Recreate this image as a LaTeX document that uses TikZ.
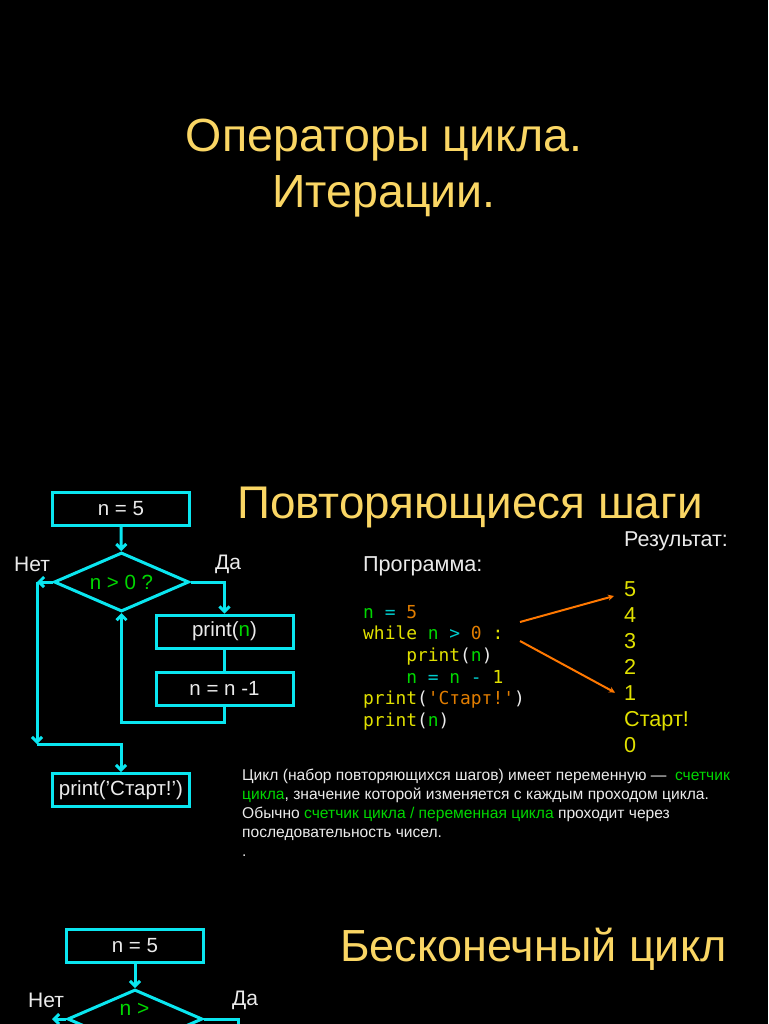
\documentclass[tikz,border=0pt]{standalone}
\usepackage{fontspec}
\setmainfont{Liberation Sans}
\setmonofont{DejaVu Sans Mono}
\usetikzlibrary{positioning,arrows.meta,shapes.geometric}

\definecolor{titlegold}{RGB}{250,214,100}
\definecolor{flowcyan}{RGB}{10,230,240}
\definecolor{softwhite}{RGB}{235,235,235}
\definecolor{flowgreen}{RGB}{0,215,0}
\definecolor{codeyellow}{RGB}{225,225,0}
\definecolor{codecyan}{RGB}{0,205,205}
\definecolor{codeorange}{RGB}{225,125,0}
\definecolor{arroworange}{RGB}{255,120,0}

\newcommand{\gn}[1]{\textcolor{flowgreen}{#1}}
\newcommand{\yl}[1]{\textcolor{codeyellow}{#1}}
\newcommand{\cy}[1]{\textcolor{codecyan}{#1}}
\newcommand{\og}[1]{\textcolor{codeorange}{#1}}

\begin{document}
\begin{tikzpicture}[
  x=1pt, y=-1pt,
  every node/.style={text=softwhite, inner sep=0pt},
  box/.style={draw=flowcyan, line width=3pt, minimum width=137pt, minimum height=33pt,
    font=\fontsize{20.5}{22}\selectfont},
  cond/.style={diamond, draw=flowcyan, line width=3pt, aspect=2.3, minimum width=135pt,
    minimum height=59pt, font=\fontsize{20.5}{22}\selectfont},
  side/.style={font=\fontsize{21}{24}\selectfont},
  heading/.style={text=titlegold, font=\fontsize{46.5}{54}\selectfont},
  res/.style={text=codeyellow, font=\fontsize{21.6}{24}\selectfont, anchor=base west},
  flow/.style={draw=flowcyan, line width=3pt, -{Straight Barb[length=5pt,width=10pt]}},
  plain/.style={draw=flowcyan, line width=3pt},
  orarrow/.style={draw=arroworange, line width=2pt, -{Stealth[length=6pt,width=6pt]}}
]
\fill[black] (0,0) rectangle (768,1024);
\useasboundingbox (0,0) rectangle (768,1024);

% title slide
\node[heading, anchor=base] (title1) at (384,152) {Операторы цикла.};
\node[heading, anchor=base] (title2) at (384,208) {Итерации.};

% flowchart
\node[box] (init) at (121,509) {n = 5};
\node[cond] (test) at (121.5,582) {\gn{n > 0 ?}};
\node[box] (show) at (224.5,631.5) {print(\gn{n})};
\node[box] (dec) at (224.5,688.5) {n = n -1};
\node[box] (done) at (121,790) {print('Старт!')};
\node[side] (no) at (32,564) {Нет};
\node[side] (yes) at (228,564) {Да};

\coordinate (nolft) at (37,582);
\coordinate (nodown) at (37,744);

\draw[flow] (init) -- (test);
\draw[flow] (test.east) -| (show.north);
\draw[plain] (show) -- (dec);
\draw[flow] (dec.south) -- ++(0,16) -| (test.south);
\draw[flow] (test.west) -- (nolft);
\draw[flow] (nolft) -- (nodown);
\draw[flow] (nodown) -| (done.north);

% program and result
\node[heading, anchor=base west, font=\fontsize{45.8}{54}\selectfont] (steps) at (237,518) {Повторяющиеся шаги};
\node[side, anchor=base west, font=\fontsize{21.6}{24}\selectfont] (proglbl) at (363,571) {Программа:};
\node[side, anchor=base west, font=\fontsize{21.5}{24}\selectfont] (reslbl) at (624,546) {Результат:};

\node[anchor=north west, align=left, font=\fontsize{17.9}{21.6}\ttfamily] (prog) at (363,605) {%
  \gn{n} \cy{=} \og{5}\\
  \yl{while} \gn{n} \cy{>} \og{0} \yl{:}\\
  \hphantom{xxxx}\yl{print}(\gn{n})\\
  \hphantom{xxxx}\gn{n} \cy{=} \gn{n} \cy{-} \yl{1}\\
  \yl{print}(\og{'Старт!'})\\
  \yl{print}(\gn{n})};

\node[res] (r5) at (624,596) {5};
\node[res] (r4) at (624,622) {4};
\node[res] (r3) at (624,648) {3};
\node[res] (r2) at (624,674) {2};
\node[res] (r1) at (624,700) {1};
\node[res] (rstart) at (624,726) {Старт!};
\node[res] (r0) at (624,752) {0};

\coordinate (w1) at (520,622);
\coordinate (w2) at (520,641);
\draw[orarrow] (w1) -- ([xshift=-10pt]r5.base west);
\draw[orarrow] (w2) -- ([xshift=-9pt]r1.west);

\node[anchor=north west, align=left, font=\fontsize{15.6}{19}\selectfont] (note) at (242,769) {%
  Цикл (набор повторяющихся шагов) имеет переменную —\ \ \gn{счетчик}\\
  \gn{цикла}, значение которой изменяется с каждым проходом цикла.\\
  Обычно \gn{счетчик цикла / переменная цикла} проходит через\\
  последовательность чисел.\\
  .};

% endless loop
\node[heading, anchor=base west, font=\fontsize{45}{54}\selectfont] (endless) at (340,961) {Бесконечный цикл};
\node[box] (init2) at (135,946) {n = 5};
\node[cond] (test2) at (135,1019) {};
\node[side, text=flowgreen] (test2txt) at (134.5,1009) {n >};
\node[side] (no2) at (46,1000) {Нет};
\node[side] (yes2) at (245,1000) {Да};
\coordinate (nolft2) at (52,1019);
\coordinate (yesdown2) at (238,1050);
\draw[flow] (init2) -- (test2);
\draw[flow] (test2.west) -- (nolft2);
\draw[plain] (test2.east) -| (yesdown2);
\end{tikzpicture}
\end{document}
